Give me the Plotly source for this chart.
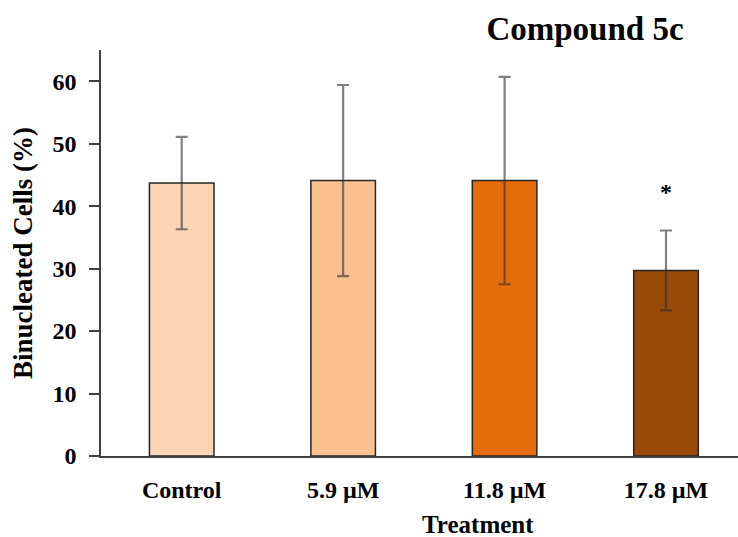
import plotly.graph_objects as go

categories = ["Control", "5.9 µM", "11.8 µM", "17.8 µM"]
values = [43.7, 44.1, 44.1, 29.7]
errors = [7.4, 15.3, 16.6, 6.4]
colors = ["#FBD5B5", "#FAC090", "#E46C0A", "#984807"]
y_ticks = [0, 10, 20, 30, 40, 50, 60]
sig_marks = ["", "", "", "*"]
sig_y = [None, None, None, 42.3]

FONT = "Liberation Serif"

fig = go.Figure()
fig.add_trace(go.Bar(
    x=categories, y=values, width=0.40,
    marker=dict(color=colors, line=dict(color="#262626", width=1.5)),
    error_y=dict(type="data", array=errors, visible=True,
                 color="rgba(50,50,50,0.62)", thickness=2.2, width=6),
    showlegend=False,
))

for c, m, yv in zip(categories, sig_marks, sig_y):
    if m:
        fig.add_annotation(x=c, y=yv, text="<b>%s</b>" % m, showarrow=False,
                           font=dict(family=FONT, size=24, color="black"))

# axis titles as annotations for exact placement
fig.add_annotation(text="<b>Treatment</b>", xref="paper", yref="paper",
                   x=(478 - 101) / 637, y=-(524 - 456) / 406, xanchor="center", yanchor="middle",
                   showarrow=False, font=dict(family=FONT, size=25, color="black"))
fig.add_annotation(text="<b>Binucleated Cells (%)</b>", xref="paper", yref="paper",
                   x=-(101 - 23) / 637, y=(456 - 253) / 406, xanchor="center", yanchor="middle",
                   textangle=-90, showarrow=False,
                   font=dict(family=FONT, size=27, color="black"))

fig.update_layout(
    width=738, height=537,
    margin=dict(l=101, r=0, t=50, b=81),
    paper_bgcolor="white", plot_bgcolor="white",
    bargap=0.6,
    title=dict(text="<b>Compound 5c</b>", x=585/738, xanchor="center",
               y=1 - 28/537, yanchor="middle", yref="container",
               font=dict(family=FONT, size=33, color="black")),
    font=dict(family=FONT, color="black"),
)

fig.update_xaxes(
    range=[-0.5, 3.446], automargin=False,
    showline=True, linecolor="#404040", linewidth=1.5,
    ticks="", showgrid=False, zeroline=False,
    tickfont=dict(family=FONT, size=24, color="black", weight="bold"),
    ticklabelstandoff=11,
)

fig.update_yaxes(
    range=[0, 65], automargin=False,
    tickvals=y_ticks, ticktext=[str(v) for v in y_ticks],
    showline=True, linecolor="#404040", linewidth=1.5,
    ticks="outside", ticklen=10, tickcolor="#404040", tickwidth=1.5,
    showgrid=False, zeroline=False,
    tickfont=dict(family=FONT, size=24, color="black", weight="bold"),
    ticklabelstandoff=8,
)

fig.write_html("out.html", config={"displayModeBar": False},
               post_script="document.body.style.margin='0';document.body.style.overflow='hidden';")
